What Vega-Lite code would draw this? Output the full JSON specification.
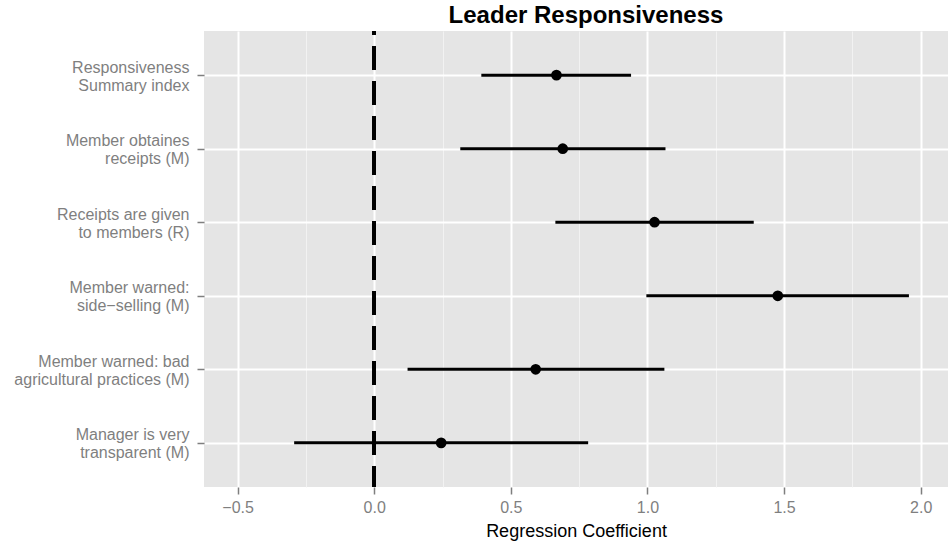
{
  "$schema": "https://vega.github.io/schema/vega-lite/v6.json",
  "autosize": {"type": "none"},
  "padding": {"left": 204, "top": 31, "right": 0, "bottom": 54},
  "width": 744,
  "height": 456,
  "background": "white",
  "config": {
    "view": {"fill": "#e5e5e5", "stroke": null},
    "font": "Liberation Sans",
    "axis": {"domain": false}
  },
  "title": {
    "text": "Leader Responsiveness",
    "fontSize": 24,
    "fontWeight": "bold",
    "font": "Liberation Sans",
    "color": "black",
    "anchor": "middle",
    "dx": 10,
    "offset": 1
  },
  "data": {
    "values": [
      {"label": "Responsiveness|Summary index", "coef": 0.667, "low": 0.392, "high": 0.940},
      {"label": "Member obtaines |receipts (M)", "coef": 0.690, "low": 0.315, "high": 1.066},
      {"label": "Receipts are given|to members (R)", "coef": 1.026, "low": 0.663, "high": 1.389},
      {"label": "Member warned: |side\u2212selling (M)", "coef": 1.477, "low": 0.996, "high": 1.957},
      {"label": "Member warned: bad|agricultural practices (M)", "coef": 0.591, "low": 0.122, "high": 1.062},
      {"label": "Manager is very|transparent (M)", "coef": 0.245, "low": -0.293, "high": 0.783}
    ]
  },
  "resolve": {"axis": {"x": "independent"}},
  "layer": [
    {
      "mark": {"type": "rule", "opacity": 0},
      "encoding": {
        "x": {
          "field": "low",
          "type": "quantitative",
          "scale": {"domain": [-0.623, 2.1], "nice": false, "zero": false},
          "axis": {
            "orient": "top",
            "values": [-0.25, 0.25, 0.75, 1.25, 1.75],
            "grid": true,
            "gridColor": "#f2f2f2",
            "gridWidth": 1,
            "labels": false,
            "ticks": false,
            "title": null,
            "domain": false
          }
        },
        "y": {
          "field": "label",
          "type": "nominal",
          "sort": null,
          "scale": {"type": "point", "padding": 0.6},
          "axis": {
            "title": null,
            "labelExpr": "split(datum.label, '|')",
            "grid": true,
            "gridColor": "white",
            "gridWidth": 2,
            "ticks": true,
            "tickColor": "#7f7f7f",
            "tickSize": 7,
            "tickWidth": 1.5,
            "tickOffset": 0,
            "labelColor": "#7f7f7f",
            "labelFontSize": 16,
            "labelLineHeight": 18,
            "labelPadding": 8,
            "labelOffset": -8,
            "labelFont": "Liberation Sans",
            "labelLimit": 300
          }
        }
      }
    },
    {
      "mark": {"type": "rule", "color": "black", "strokeWidth": 3.5, "strokeDash": [24, 11], "strokeDashOffset": 20},
      "encoding": {
        "x": {
          "datum": 0,
          "type": "quantitative",
          "scale": {"domain": [-0.623, 2.1], "nice": false, "zero": false},
          "axis": {
            "orient": "bottom",
            "values": [-0.5, 0, 0.5, 1, 1.5, 2],
            "format": ".1f",
            "grid": true,
            "gridColor": "white",
            "gridWidth": 2,
            "ticks": true,
            "tickColor": "#7f7f7f",
            "tickSize": 7,
            "tickWidth": 1.5,
            "labelColor": "#7f7f7f",
            "labelFontSize": 16,
            "labelPadding": 5,
            "labelFont": "Liberation Sans",
            "title": "Regression Coefficient",
            "titleFontSize": 18,
            "titleFontWeight": "normal",
            "titleColor": "black",
            "titlePadding": 7,
            "titleFont": "Liberation Sans"
          }
        }
      }
    },
    {
      "mark": {"type": "rule", "color": "black", "strokeWidth": 3},
      "encoding": {
        "x": {"field": "low", "type": "quantitative", "scale": {"domain": [-0.623, 2.1], "nice": false, "zero": false}, "axis": null},
        "x2": {"field": "high"},
        "y": {"field": "label", "type": "nominal", "sort": null}
      }
    },
    {
      "mark": {"type": "point", "filled": true, "color": "black", "opacity": 1, "size": 115},
      "encoding": {
        "x": {"field": "coef", "type": "quantitative", "scale": {"domain": [-0.623, 2.1], "nice": false, "zero": false}, "axis": null},
        "y": {"field": "label", "type": "nominal", "sort": null}
      }
    }
  ]
}
